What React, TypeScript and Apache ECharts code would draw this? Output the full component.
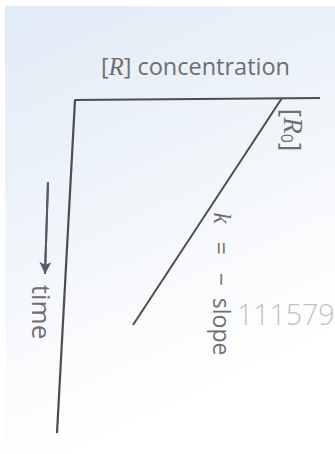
import React, { useEffect, useRef } from "react";
import * as echarts from "echarts";

// Picture-frame coordinates (x = [R] concentration, y = time, downward)
const frameX = [320, 75, 57];
const frameY = [98, 100, 433];
const slopeX = [282, 133];
const slopeY = [98, 325];
const arrowX = [48, 45];
const arrowY = [182, 274];

const xTitle = "concentration";
const yTitle = "time";
const slopeTitle = "slope";
const watermark = "111579";

const INK = "#4d4d4d";
const TXT = "#6e6e6e";

export default function App() {
  const ref = useRef<HTMLDivElement>(null);
  useEffect(() => {
    if (!ref.current) return;
    const chart = echarts.init(ref.current, undefined, { renderer: "svg" });
    const zip = (xs: number[], ys: number[]) => xs.map((x, i) => [x, ys[i]]);
    chart.setOption({
      animation: false,
      grid: { left: 0, right: 0, top: 0, bottom: 0 },
      xAxis: { type: "value", min: 0, max: 335, show: false },
      yAxis: { type: "value", min: 0, max: 454, inverse: true, show: false },
      series: [
        {
          type: "line",
          data: zip(frameX, frameY),
          symbol: "none",
          lineStyle: { color: INK, width: 2.2 },
          silent: true,
        },
        {
          type: "line",
          data: zip(slopeX, slopeY),
          symbol: "none",
          lineStyle: { color: INK, width: 2 },
          silent: true,
        },
        {
          type: "line",
          data: zip(arrowX, arrowY),
          symbol: "none",
          lineStyle: { color: "#5a5a66", width: 2 },
          silent: true,
          markLine: {
            silent: true,
            symbol: ["none", "arrow"],
            symbolSize: [9, 12],
            label: { show: false },
            lineStyle: { color: "#5a5a66", width: 2, type: "solid" },
            data: [
              [
                { coord: [arrowX[0], arrowY[0]] },
                { coord: [arrowX[1], arrowY[1]] },
              ],
            ],
          },
        },
      ],
      graphic: [
        {
          type: "text",
          x: 101,
          y: 66,
          style: {
            text: "{b|[}{r|R}{b|] " + xTitle + "}",
            verticalAlign: "middle",
            align: "left",
            rich: {
              b: { fontFamily: "Open Sans", fontSize: 23.5, fill: TXT, color: TXT },
              r: { fontFamily: "Liberation Serif", fontStyle: "italic", fontSize: 24.5, fill: TXT, color: TXT },
            },
          },
        },
        {
          type: "text",
          x: 293,
          y: 130,
          rotation: -Math.PI / 2,
          style: {
            text: "{b|[}{r|R}{s|0}{b|]}",
            align: "center",
            verticalAlign: "middle",
            rich: {
              b: { fontFamily: "Open Sans", fontSize: 26, fill: TXT, color: TXT },
              r: { fontFamily: "Liberation Serif", fontStyle: "italic", fontSize: 27, fill: TXT, color: TXT },
              s: { fontFamily: "Open Sans", fontSize: 16, fill: TXT, color: TXT, padding: [12, 0, 0, 0] },
            },
          },
        },
        {
          type: "text",
          x: 222,
          y: 284,
          rotation: -Math.PI / 2,
          style: {
            text: "{r|k}{b|   =   −  " + slopeTitle + "}",
            align: "center",
            verticalAlign: "middle",
            rich: {
              b: { fontFamily: "Open Sans", fontSize: 23, fill: TXT, color: TXT },
              r: { fontFamily: "Liberation Serif", fontStyle: "italic", fontSize: 25, fill: TXT, color: TXT },
            },
          },
        },
        {
          type: "text",
          x: 42,
          y: 312,
          rotation: -Math.PI / 2,
          style: {
            text: yTitle,
            align: "center",
            verticalAlign: "middle",
            fontFamily: "Open Sans",
            fontSize: 26,
            fill: TXT,
          },
        },
        {
          type: "text",
          x: 237,
          y: 314,
          style: {
            text: watermark,
            align: "left",
            verticalAlign: "middle",
            fontFamily: "Open Sans",
            fontWeight: 300,
            fontSize: 28.5,
            fill: "#c2c2c2",
          },
        },
      ],
    });
    return () => chart.dispose();
  }, []);

  return (
    <div style={{ position: "absolute", left: 0, top: 0, width: 335, height: 454, background: "#ffffff" }}>
      <div
        style={{
          position: "absolute",
          left: 5,
          top: 6,
          right: 0,
          bottom: 0,
          background:
            "linear-gradient(155deg, #e1ebf6 0%, #ebf2f9 30%, #f7f9fc 55%, #ffffff 80%)",
        }}
      />
      <div ref={ref} style={{ position: "absolute", left: 0, top: 0, width: 335, height: 454 }} />
    </div>
  );
}
